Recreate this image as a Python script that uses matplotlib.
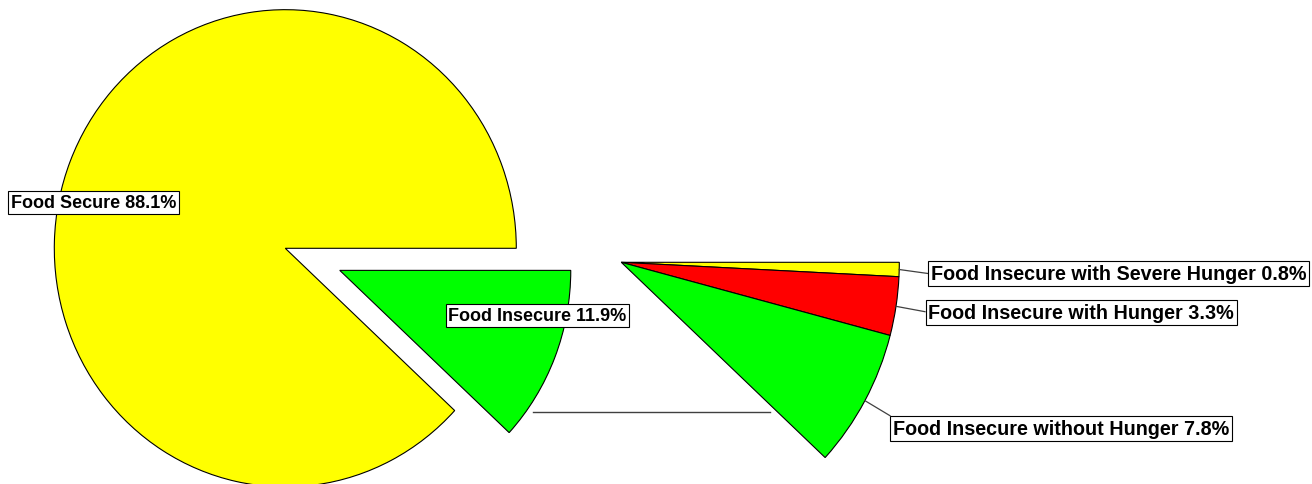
import numpy as np
import matplotlib
matplotlib.use("Agg")
import matplotlib.pyplot as plt

# ---- data ----
main_labels = ["Food Secure", "Food Insecure"]
main_values = [88.1, 11.9]
sub_labels = ["Food Insecure with Severe Hunger", "Food Insecure with Hunger",
              "Food Insecure without Hunger"]
sub_values = [0.8, 3.3, 7.8]

YELLOW = "#FFFF00"
GREEN = "#00FF00"
RED = "#FF0000"

W, H = 1312, 485
STRETCH = 1.033  # the original pies are slightly taller than wide
fig = plt.figure(figsize=(W / 100, H / 100), dpi=100)
ax = fig.add_axes([0, 0, 1, 1])

def py(y):
    return (H - y) / STRETCH

edge = dict(edgecolor="black", linewidth=0.8)

# main pie (explode is in data units = pixels here)
main_center = (285.3, py(249.3))
main_r = 231
w_main, _ = ax.pie(main_values, colors=[YELLOW, GREEN], startangle=0,
                   counterclock=True, explode=[0, 58.5],
                   center=main_center, radius=main_r, wedgeprops=edge)

# secondary pie (breakdown of food insecure)
sub_center = (621.3, py(263.3))
sub_r = 278
w_sub, _ = ax.pie([v / 100 for v in sub_values], colors=[YELLOW, RED, GREEN],
                  startangle=0, counterclock=False, normalize=False,
                  center=sub_center, radius=sub_r, wedgeprops=edge)

ax.set_xlim(0, W)
ax.set_ylim(0, H / STRETCH)
ax.set_aspect("auto")
ax.axis("off")

# connector line between pies
ax.plot([533, 770], [py(412.7), py(412.7)], color="#404040", lw=1.0)

font_main = dict(family=["Liberation Sans", "DejaVu Sans"], fontsize=13.0,
                 fontweight="bold", color="black")
font_sub = dict(font_main, fontsize=14.2)
box = dict(boxstyle="square,pad=0.14", fc="white", ec="black", lw=0.8)

# main labels
ax.text(93.5, py(203.5), f"{main_labels[0]} {main_values[0]}%", ha="center",
        va="center", bbox=box, **font_main)
ax.text(537.5, py(316.5), f"{main_labels[1]} {main_values[1]}%", ha="center",
        va="center", bbox=box, **font_main)

# sub labels with leader lines
label_pos = [(928, 274.3), (925.7, 313.4), (890, 429.5)]
leader_end = [(928, 274.5), (925, 312.7), (890, 416.7)]
for wdg, lab, val, (lx, ly), (ex, ey) in zip(w_sub, sub_labels, sub_values,
                                             label_pos, leader_end):
    th = np.deg2rad((wdg.theta1 + wdg.theta2) / 2)
    cx, cy = wdg.center
    sx, sy = cx + wdg.r * np.cos(th), cy + wdg.r * np.sin(th)
    ax.plot([sx, ex], [sy, py(ey)], color="#404040", lw=0.9)
    ax.text(lx + 2.6, py(ly), f"{lab} {val}%", ha="left", va="center",
            bbox=box, **font_sub)

fig.savefig("out.png", dpi=100)
